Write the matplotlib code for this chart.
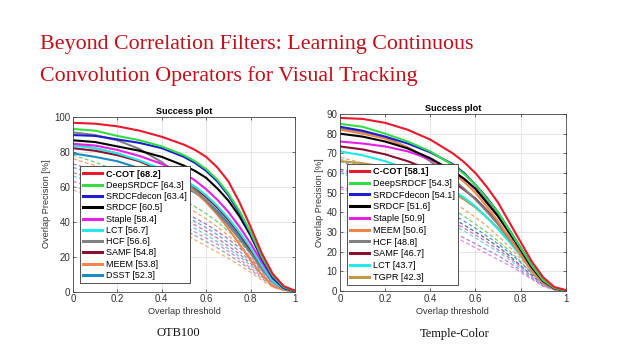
import matplotlib
matplotlib.use("Agg")
import matplotlib.pyplot as plt
import numpy as np

# ---------------- data ----------------
thresholds = [0, 0.1, 0.2, 0.3, 0.4, 0.5, 0.55, 0.6, 0.65, 0.7, 0.75, 0.8, 0.85, 0.9, 0.95, 1.0]

# OTB100 solid curves
otb_names = ["C-COT [68.2]", "DeepSRDCF [64.3]", "SRDCFdecon [63.4]", "SRDCF [60.5]",
             "Staple [58.4]", "LCT [56.7]", "HCF [56.6]", "SAMF [54.8]",
             "MEEM [53.8]", "DSST [52.3]"]
otb_ccot = [96.5, 96, 94.5, 92, 88.5, 84, 81, 77, 71, 63, 51, 37, 22, 10, 3, 0.5]
otb_deep = [93, 92, 89, 86.5, 83, 78, 74.5, 70, 64, 56, 46, 34, 20, 9, 2.5, 0.3]
otb_decon = [89.5, 89, 87, 85, 82, 77, 73.5, 69, 63, 55, 45, 33, 19, 8, 2, 0.3]
otb_srdcf = [86.5, 85.5, 83, 80.5, 77, 72, 69, 65, 59, 52, 43, 32, 19, 8, 2, 0.2]
otb_staple = [84.5, 83.5, 81, 77.5, 73, 67.5, 63.5, 58.5, 52.5, 45.5, 37, 27.5, 17, 7.5, 2, 0.2]
otb_lct = [83.5, 82, 79, 75, 70, 64, 60, 55, 49, 42, 34, 25, 15, 6, 1.5, 0.1]
otb_hcf = [91, 89.5, 86.5, 81.5, 74, 64, 58, 52, 45, 38, 30, 22, 13, 5.5, 1.5, 0.1]
otb_samf = [82, 80.5, 78, 74.5, 69.5, 63, 59, 54, 48, 41, 33, 24, 14.5, 6, 1.5, 0.1]
otb_meem = [84, 82, 79, 74.5, 68.5, 61.5, 57, 51, 44, 36, 27, 18, 9.5, 3, 0.8, 0]
otb_dsst = [79, 77, 74.5, 70.5, 65.5, 60, 56.5, 52, 46, 39, 31, 23, 14, 6, 1.5, 0.1]
otb_solid = [otb_ccot, otb_deep, otb_decon, otb_srdcf, otb_staple, otb_lct,
             otb_hcf, otb_samf, otb_meem, otb_dsst]

# OTB100 dashed (other trackers)
otb_d1 = [78, 74, 69, 64, 58, 52, 48.5, 44.5, 40, 34.5, 28.5, 21.5, 13.5, 6, 1.5, 0.1]
otb_d2 = [76, 72, 67, 61.5, 55.5, 49, 45.5, 41.5, 37, 32, 26.5, 20, 12.5, 5.5, 1.5, 0.1]
otb_d3 = [73, 69, 64, 58.5, 52, 45.5, 42, 38.5, 34.5, 30, 25, 19, 12, 5.5, 1.5, 0.1]
otb_d4 = [71, 67, 62, 56.5, 50, 43.5, 40, 36.5, 32.5, 28, 23, 17.5, 11, 5, 1.3, 0.1]
otb_d5 = [68, 64, 59, 53.5, 47.5, 41, 38, 34.5, 30.5, 26, 21.5, 16, 10, 4.5, 1.2, 0.1]
otb_d6 = [66, 62, 57, 51.5, 45.5, 39, 36, 32.5, 28.5, 24.5, 20, 15, 9.5, 4, 1, 0.1]
otb_d7 = [63, 59.5, 55, 50, 44, 37.5, 34, 30.5, 27, 23, 18.5, 13.5, 8.5, 3.5, 1, 0]
otb_d8 = [60, 56.5, 52, 47, 41.5, 35.5, 32, 28.5, 25, 21, 17, 12.5, 7.5, 3, 0.8, 0]
otb_d9 = [58, 54, 49.5, 44.5, 39, 33, 29.5, 26, 22.5, 19, 15, 11, 6.5, 2.5, 0.6, 0]
otb_dashed = [otb_d1, otb_d2, otb_d3, otb_d4, otb_d5, otb_d6, otb_d7, otb_d8, otb_d9]

# Temple-Color solid curves
tc_names = ["C-COT [58.1]", "DeepSRDCF [54.3]", "SRDCFdecon [54.1]", "SRDCF [51.6]",
            "Staple [50.9]", "MEEM [50.6]", "HCF [48.8]", "SAMF [46.7]",
            "LCT [43.7]", "TGPR [42.3]"]
tc_ccot = [88, 87.5, 85.5, 82, 77, 70, 65.5, 60, 53, 45, 35, 25, 15, 7, 2, 0.5]
tc_deep = [85, 83.5, 80, 76, 71, 64, 59.5, 54, 47, 40, 31, 22, 13, 5.5, 1.5, 0.2]
tc_decon = [83.5, 81.5, 78.5, 75, 70.5, 64.5, 60, 54, 47.5, 40, 31, 22, 13, 5.5, 1.5, 0.2]
tc_srdcf = [80, 78.5, 76, 72.5, 67.5, 61, 57, 52, 45, 38, 29.5, 21, 12, 5, 1.3, 0.2]
tc_staple = [76, 75, 73.5, 71, 67, 61, 57, 52, 46, 39, 31, 22, 13, 5, 1.3, 0.2]
tc_meem = [82, 80, 77.5, 73, 67, 60, 55.5, 50, 43, 35.5, 27, 18.5, 10, 4, 1, 0.1]
tc_hcf = [82.5, 81, 78, 73, 66, 57, 52, 46.5, 40.5, 34, 26.5, 19, 11, 4.5, 1.2, 0.1]
tc_samf = [73.5, 72, 69.5, 66, 61.5, 55.5, 51.5, 47, 41, 34.5, 27, 19, 11, 4.5, 1.2, 0.1]
tc_lct = [71, 69, 66, 62, 57, 51, 47.5, 43, 37.5, 31.5, 25, 18, 10.5, 4, 1, 0.1]
tc_tgpr = [66, 65, 63, 60, 55.5, 50, 46.5, 42.5, 37.5, 32, 25.5, 18.5, 11, 4.5, 1.2, 0.1]
tc_solid = [tc_ccot, tc_deep, tc_decon, tc_srdcf, tc_staple, tc_meem,
            tc_hcf, tc_samf, tc_lct, tc_tgpr]

# Temple-Color dashed (other trackers)
tc_d1 = [68, 65, 61, 56.5, 51, 45, 41.5, 37.5, 33, 28, 22.5, 16.5, 10, 4, 1, 0.1]
tc_d2 = [67, 63.5, 59, 54, 48, 41.5, 38, 34, 30, 25.5, 20.5, 15, 9, 3.5, 0.9, 0.1]
tc_d3 = [66, 62, 57, 51.5, 45.5, 39, 35.5, 32, 28, 24, 19.5, 14.5, 9, 3.5, 0.9, 0]
tc_d4 = [62, 58.5, 54, 49, 43, 37, 33.5, 30, 26.5, 22.5, 18, 13, 8, 3, 0.8, 0]
tc_d5 = [61, 57, 52.5, 47, 41, 35, 32, 28.5, 25, 21, 17, 12.5, 7.5, 3, 0.8, 0]
tc_d6 = [60, 56, 51, 45.5, 39.5, 33.5, 30.5, 27, 23.5, 20, 16, 11.5, 7, 2.5, 0.6, 0]
tc_d7 = [53, 50, 46, 41.5, 36, 30, 27, 24, 21, 18, 14.5, 10.5, 6.5, 2.5, 0.6, 0]
tc_d8 = [52, 48.5, 44, 39, 33.5, 28, 25, 22, 19, 16, 13, 9.5, 6, 2.5, 0.5, 0]
tc_dashed = [tc_d1, tc_d2, tc_d3, tc_d4, tc_d5, tc_d6, tc_d7, tc_d8]

# ---------------- styles ----------------
col = {"C-COT": "#e8192c", "DeepSRDCF": "#33dd44", "SRDCFdecon": "#1c1cd8",
       "SRDCF": "#000000", "Staple": "#e61ee6", "LCT": "#22e8e8",
       "HCF": "#808080", "SAMF": "#8a1030", "MEEM": "#f0844a",
       "DSST": "#1a8cc0", "TGPR": "#bf9a44"}
dash_cols_otb = ["#6fcf6f", "#ef9f6f", "#9f6fcf", "#6f9fdf", "#cf6f9f",
                 "#5fcfcf", "#df7fdf", "#9f9f9f", "#efaf7f"]
dash_cols_tc = ["#ef9f6f", "#6fcf6f", "#5f8fcf", "#4f6f8f", "#cf6fcf",
                "#7fcfcf", "#af7fdf", "#df8fdf"]

title_color = "#c0101a"
axfont = "Liberation Sans"

W, H = 640, 359
fig = plt.figure(figsize=(6.4, 3.59), dpi=100)
fig.patch.set_facecolor("white")

fig.text(40 / W, 1 - 49.5 / H, "Beyond Correlation Filters: Learning Continuous",
         family="Liberation Serif", fontsize=15.8, color=title_color, va="baseline", ha="left")
fig.text(40 / W, 1 - 81.5 / H, "Convolution Operators for Visual Tracking",
         family="Liberation Serif", fontsize=15.8, color=title_color, va="baseline", ha="left")


def make_ax(rect, solid, names, dashed, dcols, ymax, yticks, legend_anchor, legopts):
    ax = fig.add_axes(rect)
    for vals, c in zip(dashed, dcols):
        ax.plot(thresholds, vals, linestyle=(0, (3, 2)), color=c, lw=0.9)
    handles = []
    for vals, name in zip(solid[::-1], names[::-1]):
        key = name.split(" ")[0]
        h, = ax.plot(thresholds, vals, color=col[key], lw=1.5)
        handles.append(h)
    handles = handles[::-1]
    ax.set_xlim(0, 1)
    ax.set_ylim(0, ymax)
    ax.set_xticks([0, 0.2, 0.4, 0.6, 0.8, 1])
    ax.set_xticklabels(["0", "0.2", "0.4", "0.6", "0.8", "1"])
    ax.set_yticks(yticks)
    ax.grid(True, color="#e2e2e2", lw=0.6)
    ax.set_axisbelow(True)
    ax.tick_params(direction="in", length=2.5, width=0.5, labelsize=7,
                   colors="#333333", top=True, right=True, pad=2)
    for lab in ax.get_xticklabels() + ax.get_yticklabels():
        lab.set_family(axfont)
    for s in ax.spines.values():
        s.set_linewidth(0.6)
        s.set_color("#444444")
    ax.set_title("Success plot", fontsize=6.6, fontweight="bold", family=axfont, pad=2)
    ax.set_xlabel("Overlap threshold", fontsize=6.6, family=axfont, color="#333333", labelpad=2)
    ax.set_ylabel("Overlap Precision [%]", fontsize=6.6, family=axfont, color="#333333", labelpad=2)
    leg = ax.legend(handles, names, loc="lower left", bbox_to_anchor=legend_anchor,
                    borderaxespad=0, frameon=True, fancybox=False,
                    edgecolor="#333333", framealpha=1,
                    prop={"family": axfont, "size": legopts["size"]},
                    labelspacing=legopts["labelspacing"],
                    handlelength=legopts["handlelength"],
                    handletextpad=legopts["handletextpad"],
                    borderpad=legopts["borderpad"])
    leg.get_frame().set_linewidth(0.6)
    for line in leg.get_lines():
        line.set_linewidth(2.2)
    leg.get_texts()[0].set_fontweight("bold")
    return ax


make_ax([73 / W, 1 - 291.5 / H, 222 / W, 174.8 / H], otb_solid, otb_names,
        otb_dashed, dash_cols_otb, 100, [0, 20, 40, 60, 80, 100], (0.032, 0.048),
        dict(size=6.5, labelspacing=0.25, handlelength=2.1, handletextpad=0.45, borderpad=0.35))
make_ax([340 / W, 1 - 291 / H, 225.7 / W, 177 / H], tc_solid, tc_names,
        tc_dashed, dash_cols_tc, 90, list(range(0, 91, 10)), (0.031, 0.034),
        dict(size=6.6, labelspacing=0.3, handlelength=2.0, handletextpad=0.5, borderpad=0.35))

fig.text(178 / W, 1 - 336.5 / H, "OTB100", family="Liberation Serif", fontsize=9,
         ha="center", va="baseline", color="#111111")
fig.text(455 / W, 1 - 336.5 / H, "Temple-Color", family="Liberation Serif", fontsize=9,
         ha="center", va="baseline", color="#111111")

fig.savefig("out.png", dpi=100, facecolor="white")
